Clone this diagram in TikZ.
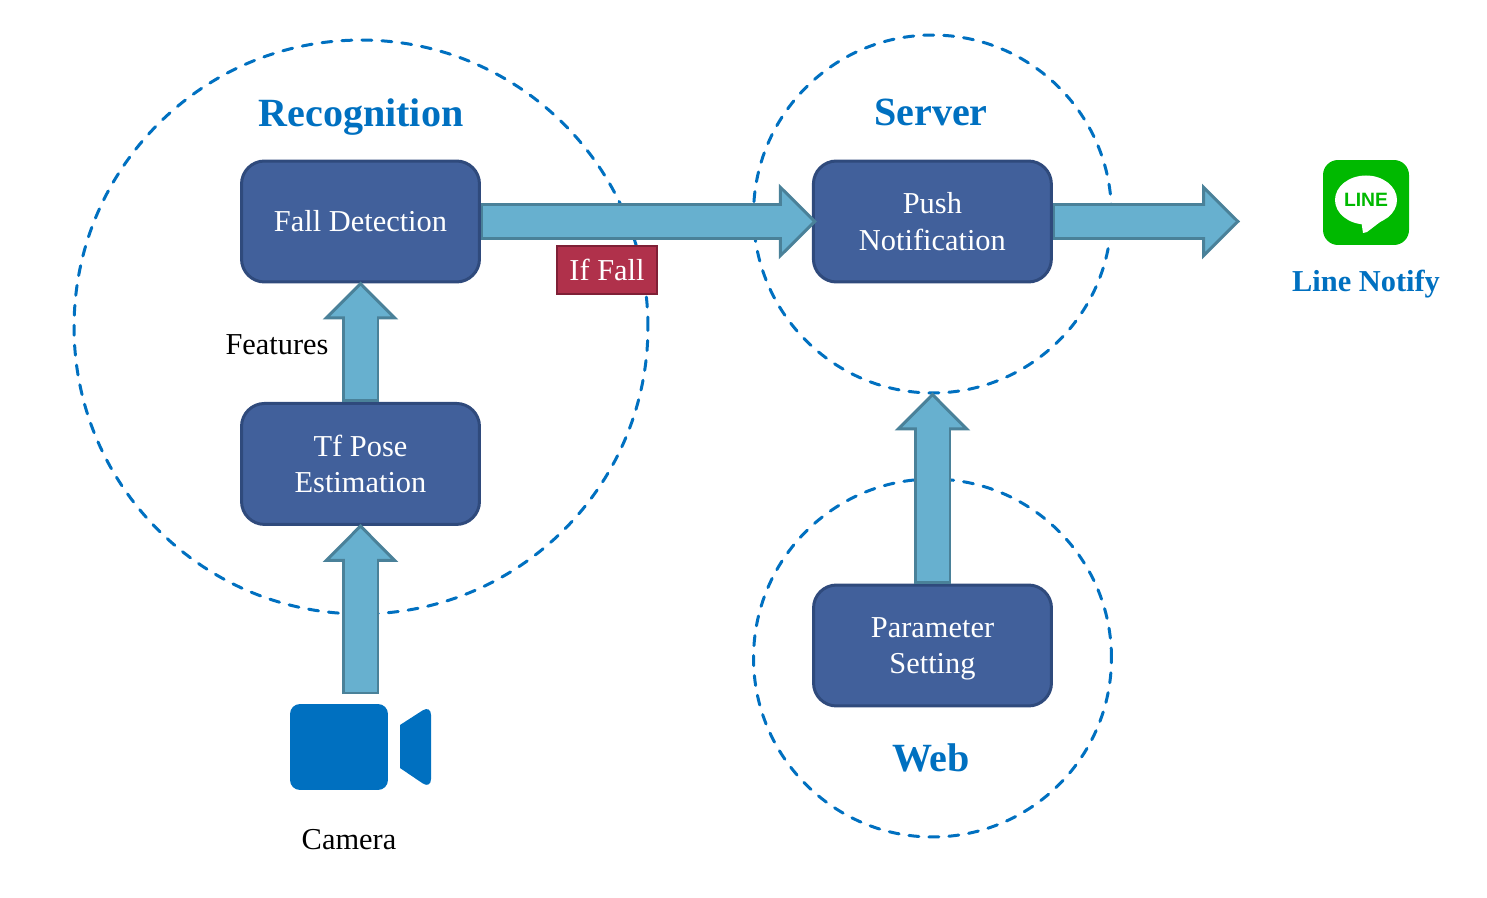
\documentclass[tikz,border=0pt]{standalone}
\usepackage{fontspec}
\setmainfont{Liberation Serif}
\newfontfamily\logofont{Liberation Sans}
\usetikzlibrary{arrows.meta}
\usetikzlibrary{positioning}
\definecolor{BoxFill}{HTML}{41609B}
\definecolor{BoxLine}{HTML}{2F4A7C}
\definecolor{BlockFill}{HTML}{67B0CF}
\definecolor{BlockLine}{HTML}{4A8199}
\definecolor{TitleBlue}{HTML}{0070C0}
\definecolor{FallFill}{HTML}{B0314B}
\definecolor{FallLine}{HTML}{7F2036}
\definecolor{LineGreen}{HTML}{00B900}
\begin{document}
\begin{tikzpicture}[x=0.02cm,y=-0.02cm]

	\tikzset{CircleStyle/.style = {shape = circle,
			draw = TitleBlue,
			dash pattern = on 0.2cm off 0.2cm,
			line cap = round,
			line width = 0.06cm,
			inner sep = 0 pt}}

	\tikzset{BoxStyle/.style = {shape = rectangle,
			rounded corners = 0.46cm,
			draw = BoxLine,
			fill = BoxFill,
			line width = 0.06cm,
			text = white,
			align = center,
			font = \fontsize{17.3}{21}\selectfont,
			minimum width = 4.76cm,
			minimum height = 2.42cm}}

	\tikzset{TitleStyle/.style = {text = TitleBlue,
			text depth = 0 pt,
			font = \bfseries\fontsize{22.8}{27}\selectfont}}

	\tikzset{TextStyle/.style = {font = \fontsize{17.3}{21}\selectfont}}

	\tikzset{BlockStyle/.style = {draw = BlockLine,
			line width = 0.74cm,
			shorten > = -#1,
			-{Triangle[length = 0.76cm, width = 1.5cm, sep = 0pt, line width = 0.06cm,
				color = BlockLine, fill = BlockFill]},
			postaction = {draw = BlockFill, line width = 0.64cm, -,
				shorten > = 0.6cm-#1, shorten < = 0.05cm}},
		BlockStyle/.default = 0.04cm}

	\useasboundingbox (0,0) rectangle (1487,898);

	\node[CircleStyle,minimum size = 11.48cm](recognition) at (361,327){};
	\node[CircleStyle,minimum size = 7.16cm](server) at (932.5,214){};
	\node[CircleStyle,minimum size = 7.16cm](web) at (932.5,658){};

	\node[BoxStyle](fall) at (360.5,221.5){Fall Detection};
	\node[BoxStyle,below = 2.37cm of fall](pose){Tf Pose\\Estimation};
	\node[BoxStyle,right = 6.62cm of fall](push){Push\\Notification};
	\node[BoxStyle,text depth = 0 pt](parameter) at (932.5,645.5){Parameter\\Setting};

	\node[TitleStyle](recognitiontitle) at (361,113){Recognition};
	\node[TitleStyle](servertitle) at (931,112){Server};
	\node[TitleStyle](webtitle) at (931,758){Web};
	\node[TextStyle](features) at (277,345){Features};
	\node[TextStyle](cameratitle) at (349,840){Camera};

	% camera
	\node[shape = rectangle,rounded corners = 0.2cm,fill = TitleBlue,
		minimum width = 1.96cm,minimum height = 1.72cm](camera) at (339,747){};
	\fill[TitleBlue] (400,725) [rounded corners = 0.2cm] -- (431,705) -- (431,789) [sharp corners] -- (400,768) -- cycle;
	\coordinate (cameratop) at (360.5,694);

	% line icon
	\node[shape = rectangle,rounded corners = 0.3cm,fill = LineGreen,
		minimum width = 1.72cm,minimum height = 1.7cm](lineicon) at (1366,202.5){};
	\fill[white] (1366,200) ellipse [x radius = 31,y radius = 24.5];
	\fill[white] (1361,220) -- (1363,233) -- (1367,232) -- (1384,219) -- cycle;
	\node[text = LineGreen,font = \logofont\bfseries\fontsize{11}{13}\selectfont,inner sep = 0 pt](linelogo) at (1366,200){LINE};
	\node[TitleStyle,font = \bfseries\fontsize{17.3}{21}\selectfont](linetitle) at (1366,281){Line Notify};
	\coordinate (notifytip) at (1238,221.5);

	\draw[BlockStyle](cameratop) to (pose.south);
	\draw[BlockStyle](pose.north) to (fall.south);
	\draw[BlockStyle = 0.1cm](fall.east) to (push.west);
	\draw[BlockStyle](push.east) to (notifytip);
	\draw[BlockStyle](parameter.north) to (server.south);

	\node[shape = rectangle,draw = FallLine,fill = FallFill,line width = 0.05cm,
		text = white,font = \fontsize{17.3}{21}\selectfont,
		minimum width = 2cm,minimum height = 0.96cm,inner sep = 0 pt](iffall) at (607,270){If Fall};

\end{tikzpicture}
\end{document}
